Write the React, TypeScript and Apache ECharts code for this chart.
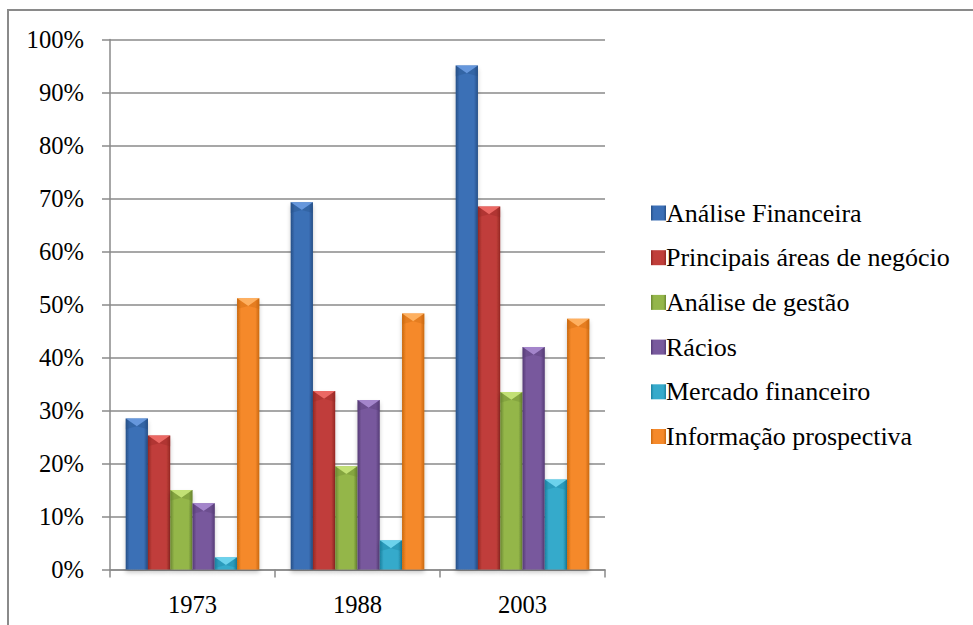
import React, { useEffect, useRef } from "react";
import * as echarts from "echarts";

const categories = ["1973", "1988", "2003"];
const seriesNames = [
  "Análise Financeira",
  "Principais áreas de negócio",
  "Análise de gestão",
  "Rácios",
  "Mercado financeiro",
  "Informação prospectiva",
];
const analiseFinanceira = [28.5, 69.3, 95.1];
const principaisAreas = [25.3, 33.7, 68.5];
const analiseGestao = [15.0, 19.5, 33.5];
const racios = [12.5, 32.0, 42.0];
const mercadoFinanceiro = [2.3, 5.5, 17.0];
const informacaoProspectiva = [51.2, 48.3, 47.3];
const yTicks = [0, 10, 20, 30, 40, 50, 60, 70, 80, 90, 100];

const seriesValues = [
  analiseFinanceira,
  principaisAreas,
  analiseGestao,
  racios,
  mercadoFinanceiro,
  informacaoProspectiva,
];

// [edge, center, highlight]
const palette: [string, string, string][] = [
  ["#264f86", "#3b6fb6", "#6b9be0"],
  ["#942724", "#c03e3a", "#ef6d69"],
  ["#6a8730", "#94b64a", "#c6e47a"],
  ["#553b76", "#78599d", "#a98bd0"],
  ["#1b82a0", "#36aacb", "#72d6f0"],
  ["#c9680f", "#f5892a", "#ffb566"],
];

const CAT_GAP = 0.19;
const FONT = "Liberation Serif";

function grad(edge: string, center: string) {
  return new echarts.graphic.LinearGradient(0, 0, 1, 0, [
    { offset: 0, color: edge },
    { offset: 0.18, color: center },
    { offset: 0.5, color: center },
    { offset: 0.82, color: center },
    { offset: 1, color: edge },
  ]);
}

export default function App() {
  const ref = useRef<HTMLDivElement>(null);
  useEffect(() => {
    if (!ref.current) return;
    const chart = echarts.init(ref.current, undefined, { renderer: "svg" });
    const gridColor = "#8a8a8a";
    const n = seriesNames.length;

    const bars = seriesNames.map((name, i) => ({
      name,
      type: "bar",
      barGap: "0%",
      barCategoryGap: CAT_GAP * 100 + "%",
      data: seriesValues[i],
      itemStyle: {
        color: grad(palette[i][0], palette[i][1]),
        shadowColor: "rgba(0,0,0,0.22)",
        shadowBlur: 4,
        shadowOffsetY: 3,
      },
    }));

    const bevels = seriesNames.map((name, i) => ({
      name: name + " bevel",
      type: "custom",
      z: 5,
      silent: true,
      data: seriesValues[i].map((v, k) => [k, v]),
      renderItem: (params: any, api: any) => {
        const k = api.value(0);
        const v = api.value(1);
        const top = api.coord([k, v]);
        const band = api.size([1, 0])[0];
        const groupW = band * (1 - CAT_GAP);
        const w = groupW / n;
        const x0 = top[0] - groupW / 2 + i * w;
        const y0 = top[1];
        const h = Math.min(8, w * 0.35);
        return {
          type: "group",
          children: [
            {
              type: "polygon",
              shape: { points: [[x0, y0], [x0 + w, y0], [x0 + w / 2, y0 + h]] },
              style: { fill: palette[i][2], opacity: 0.9 },
            },
            {
              type: "polygon",
              shape: { points: [[x0, y0], [x0 + w / 2, y0 + h], [x0, y0 + h + 3]] },
              style: { fill: palette[i][0], opacity: 0.35 },
            },
            {
              type: "polygon",
              shape: { points: [[x0 + w, y0], [x0 + w / 2, y0 + h], [x0 + w, y0 + h + 3]] },
              style: { fill: palette[i][0], opacity: 0.35 },
            },
          ],
        };
      },
    }));

    chart.setOption({
      animation: false,
      backgroundColor: "#ffffff",
      textStyle: { fontFamily: FONT },
      graphic: [
        {
          type: "polyline",
          shape: { points: [[8, 625], [8, 10], [973, 10]] },
          style: { stroke: "#8a8a8a", lineWidth: 2, fill: "none" },
          silent: true,
        },
      ],
      grid: { left: 110, right: 368, top: 39.5, bottom: 55.5, containLabel: false },
      legend: {
        orient: "vertical",
        left: 646,
        top: 195,
        itemWidth: 15,
        itemHeight: 15,
        itemGap: 18.7,
        icon: "rect",
        textStyle: { fontFamily: FONT, fontSize: 26, color: "#000", padding: [0, 0, 0, -5] },
        data: seriesNames,
      },
      xAxis: {
        type: "category",
        data: categories,
        axisLine: { lineStyle: { color: gridColor, width: 1.5 } },
        axisTick: { show: true, length: 8, lineStyle: { color: gridColor, width: 1.5 } },
        axisLabel: { fontFamily: FONT, fontSize: 24.6, color: "#000", margin: 22 },
      },
      yAxis: {
        type: "value",
        min: 0,
        max: 100,
        interval: 10,
        axisLine: { show: true, lineStyle: { color: gridColor, width: 1.5 } },
        axisTick: { show: true, length: 8, lineStyle: { color: gridColor, width: 1.5 } },
        splitLine: { show: true, lineStyle: { color: gridColor, width: 1.5 } },
        axisLabel: {
          fontFamily: FONT,
          fontSize: 24.6,
          color: "#000",
          margin: 26,
          formatter: (v: number) => (yTicks.includes(v) ? v + "%" : ""),
        },
      },
      series: [...bars, ...bevels],
    });
    return () => chart.dispose();
  }, []);
  return (
    <div
      ref={ref}
      style={{ position: "fixed", left: 0, top: 0, width: 973, height: 625 }}
    />
  );
}
